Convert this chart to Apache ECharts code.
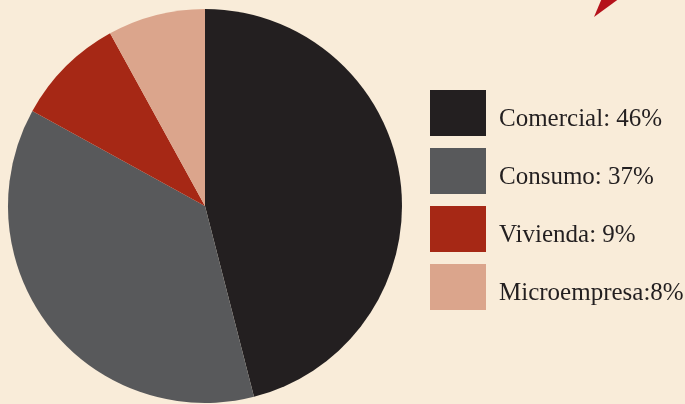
<!DOCTYPE html>
<html>
<head>
<meta charset="utf-8">
<script src="https://cdn.jsdelivr.net/npm/echarts@6/dist/echarts.min.js"></script>
<style>
html,body{margin:0;padding:0;background:#F9ECD9;}
#chart{width:685px;height:404px;}
</style>
</head>
<body>
<div id="chart"></div>
<script>
const categories = ['Comercial', 'Consumo', 'Vivienda', 'Microempresa'];
const values = [46, 37, 9, 8];
const labelSeparators = [': ', ': ', ': ', ':'];
const colors = ['#231F20', '#58595B', '#A62815', '#DBA58C'];

const chart = echarts.init(document.getElementById('chart'), null, {renderer: 'canvas'});
const data = categories.map((c, i) => ({name: c, value: values[i], itemStyle: {color: colors[i]}}));
chart.setOption({
  backgroundColor: '#F9ECD9',
  animation: false,
  legend: {
    orient: 'vertical',
    left: 430,
    top: 90,
    itemWidth: 56,
    itemHeight: 46,
    itemGap: 12,
    icon: 'rect',
    padding: 0,
    data: categories,
    formatter: function (name) {
      const i = categories.indexOf(name);
      return '{t|' + name + labelSeparators[i] + values[i] + '%}';
    },
    textStyle: {
      fontFamily: '"Liberation Serif", serif',
      fontSize: 25,
      color: '#231F20',
      rich: {
        t: {
          fontFamily: '"Liberation Serif", serif',
          fontSize: 25,
          color: '#231F20',
          padding: [12, 0, 0, 8]
        }
      }
    }
  },
  graphic: [{
    type: 'polygon',
    shape: {points: [[602, -2], [620, -2], [594, 17]]},
    style: {fill: '#B5121B'}
  }],
  series: [{
    type: 'pie',
    center: [205, 206],
    radius: 197,
    startAngle: 90,
    clockwise: true,
    label: {show: false},
    labelLine: {show: false},
    itemStyle: {borderWidth: 0},
    emphasis: {disabled: true},
    data: data
  }]
});
</script>
</body>
</html>
